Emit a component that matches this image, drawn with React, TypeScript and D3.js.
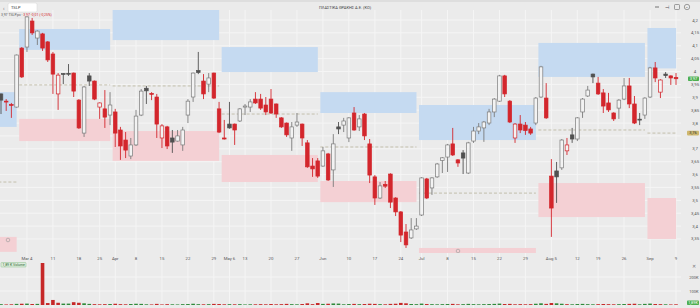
import React from "react";
import * as d3 from "d3";

const W = 700;
const H = 308;

// Daily OHLC (index 0 = 26 Feb 2024)
const opens = [3.913,3.885,3.872,3.862,4.091,4.095,4.196,4.130,4.146,4.115,
4.068,3.913,3.992,3.993,3.994,3.889,3.761,3.983,3.963,3.862,
3.855,3.831,3.843,3.773,3.734,3.672,3.715,3.831,3.935,3.915,
3.901,3.742,3.785,3.742,3.730,3.715,3.831,3.901,4.004,3.963,
3.951,3.994,3.855,3.742,3.796,3.796,3.808,3.862,3.862,3.893,
3.893,3.870,3.893,3.874,3.820,3.800,3.742,3.792,3.796,3.723,
3.633,3.653,3.633,3.680,3.618,3.785,3.792,3.742,3.839,3.785,
3.835,3.719,3.591,3.509,3.562,3.602,3.509,3.455,3.377,3.354,
3.389,3.443,3.583,3.548,3.591,3.655,3.668,3.719,3.657,3.684,
3.606,3.730,3.769,3.781,3.800,3.843,3.885,3.983,3.885,3.742,
3.796,3.792,3.777,3.800,3.901,3.897,3.594,3.614,3.626,3.692,
3.754,3.738,3.843,3.905,3.990,3.955,3.917,3.878,3.839,3.858,
3.893,3.944,3.874,3.815,3.831,3.901,4.014,3.920,3.990,3.983,
3.977];
const highs = [3.915,3.893,3.878,4.066,4.095,4.215,4.208,4.160,4.150,4.118,
4.076,3.994,3.994,4.029,3.996,3.893,3.944,3.994,3.965,3.880,
3.928,3.920,3.855,3.785,3.765,3.742,3.851,3.932,3.944,3.920,
3.913,3.796,3.789,3.773,3.773,3.785,3.893,3.996,4.076,3.990,
3.994,3.996,3.882,3.812,3.882,3.798,3.858,3.874,3.893,3.920,
3.913,3.901,3.932,3.876,3.823,3.802,3.804,3.839,3.798,3.734,
3.664,3.664,3.707,3.684,3.757,3.804,3.820,3.823,3.862,3.831,
3.839,3.738,3.598,3.571,3.575,3.605,3.512,3.458,3.408,3.431,
3.431,3.590,3.587,3.590,3.645,3.668,3.719,3.781,3.660,3.695,
3.727,3.785,3.800,3.808,3.855,3.897,3.987,3.987,3.889,3.800,
3.831,3.804,3.785,3.901,4.022,3.955,3.660,3.649,3.738,3.742,
3.781,3.823,3.897,3.944,3.992,3.979,3.932,3.917,3.842,3.893,
3.975,3.975,3.905,3.839,3.900,4.018,4.037,3.970,3.998,3.985,
3.994];
const lows = [3.835,3.847,3.820,3.860,3.975,4.076,4.142,4.103,4.080,4.037,
3.913,3.851,3.951,3.983,3.901,3.777,3.746,3.944,3.889,3.816,
3.781,3.792,3.707,3.657,3.664,3.660,3.711,3.827,3.874,3.889,
3.742,3.703,3.699,3.684,3.728,3.692,3.800,3.882,3.990,3.893,
3.920,3.893,3.761,3.736,3.778,3.715,3.804,3.831,3.843,3.874,
3.851,3.831,3.835,3.820,3.781,3.746,3.692,3.785,3.711,3.626,
3.591,3.587,3.630,3.575,3.552,3.757,3.765,3.726,3.770,3.769,
3.734,3.567,3.482,3.505,3.548,3.470,3.439,3.338,3.315,3.350,
3.385,3.439,3.505,3.521,3.587,3.606,3.610,3.672,3.630,3.602,
3.602,3.723,3.757,3.727,3.792,3.823,3.882,3.901,3.800,3.723,
3.761,3.754,3.754,3.792,3.897,3.816,3.358,3.490,3.618,3.676,
3.723,3.730,3.820,3.901,3.955,3.909,3.839,3.843,3.808,3.816,
3.889,3.858,3.796,3.792,3.816,3.897,3.959,3.897,3.975,3.948,
3.948];
const closes = [3.889,3.883,3.870,4.064,3.979,4.212,4.150,4.157,4.091,4.045,
3.990,3.986,3.991,3.992,3.924,3.781,3.940,3.963,3.893,3.878,
3.823,3.870,3.761,3.711,3.695,3.715,3.827,3.924,3.925,3.912,
3.796,3.789,3.711,3.726,3.750,3.773,3.885,3.994,3.996,3.913,
3.975,3.897,3.765,3.738,3.781,3.773,3.855,3.866,3.882,3.878,
3.858,3.843,3.839,3.835,3.785,3.754,3.785,3.804,3.742,3.630,
3.622,3.594,3.692,3.579,3.719,3.777,3.808,3.820,3.773,3.816,
3.750,3.598,3.509,3.556,3.555,3.493,3.455,3.365,3.327,3.385,
3.400,3.587,3.509,3.587,3.641,3.665,3.715,3.676,3.645,3.664,
3.723,3.769,3.785,3.804,3.843,3.893,3.983,3.913,3.804,3.796,
3.773,3.771,3.761,3.897,4.018,3.820,3.470,3.591,3.734,3.715,
3.738,3.820,3.893,3.928,3.979,3.913,3.866,3.851,3.816,3.889,
3.944,3.874,3.800,3.812,3.897,4.014,3.975,3.967,3.984,3.975,
3.972];
// volume in thousands
const volumes = [6,4,5,8,9,10,7,8,300,14,
36,16,10,10,20,16,12,8,6,5,
6,7,9,6,5,7,9,8,5,4,
8,4,6,5,4,6,7,9,6,5,
6,8,7,5,6,5,6,4,5,5,
6,5,7,5,6,8,6,5,7,12,
6,14,8,9,11,10,5,7,8,6,
7,9,8,6,5,8,9,15,12,7,
6,10,7,6,5,6,7,8,5,6,
8,6,5,6,7,8,10,7,8,5,
6,5,6,9,12,8,14,12,9,6,
5,7,8,6,5,6,7,6,5,6,
7,8,9,5,8,10,7,6,5,4,
5];

const tickIndex = [5,10,15,19,22,26,31,36,41,44,47,52,57,62,67,72,77,81,86,91,96,101,106,111,115,120,125,130];
const tickLabels = ["Mar 4","11","18","25","Apr","8","15","22","29","May 6","13","20","27","Jun","10","17","24","Jul","8","15","22","29","Aug 5","12","19","26","Sep","9"];

// monthly zones
const monthFirst = [0,4,22,43,62,81,104,125];
const monthLast = [3,21,42,61,80,103,124,130];
const resHigh = [3.920,4.165,4.240,4.095,3.920,3.870,4.111,4.169];
const resLow = [3.785,4.084,4.122,3.998,3.839,3.734,3.979,4.012];
const supHigh = [3.358,3.816,3.769,3.676,3.575,3.315,3.567,3.509];
const supLow = [3.300,3.730,3.653,3.571,3.493,3.280,3.435,3.350];
const pivots = [3.571,3.948,3.944,3.835,3.707,3.528,3.773,3.761];

const priceTicks = d3.range(67, 85).map((k) => k * 0.05);
const volTicks = [100, 200];

const BG = "#ebebeb";
const GRID = "#f5f5f5";
const RED = "#d3262c";
const GRAY = "#7b7b7b";
const DARK = "#505050";
const GREEN = "#2f8a3a";
const FONT = "Roboto, 'Liberation Sans', Arial, sans-serif";

const fmt = (v: number) => String(Math.round(v * 100) / 100).replace(".", ",");

export default function App() {
  const n = closes.length;
  const x = d3.scaleLinear().domain([0, n - 1]).range([1, 676]);
  const step = x(1) - x(0);
  const y = d3.scaleLinear().domain([4.2, 3.3]).range([20, 251.84]);
  const yv = d3.scaleLinear().domain([0, 200]).range([305, 277]);
  const bw = 3.6;
  const last = closes[n - 1];
  const badgeYs = [y(last), y(pivots[7])];
  const shownTicks = priceTicks.filter((p) => badgeYs.every((b) => Math.abs(y(p) - b) > 4));

  return (
    <div style={{ position: "fixed", left: 0, top: 0, width: W, height: H }}>
      <svg width={W} height={H} style={{ display: "block", fontFamily: FONT }}>
        <defs>
          <clipPath id="pclip">
            <rect x={0} y={10} width={681} height={243} />
          </clipPath>
        </defs>
        <rect x={0} y={0} width={W} height={H} fill={BG} />
        <rect x={0} y={0} width={W} height={2} fill="#dedede" />

        {/* vertical grid */}
        {tickIndex.map((t, k) => (
          <line key={"vg" + k} x1={x(t)} x2={x(t)} y1={10} y2={H} stroke={GRID} strokeWidth={1} />
        ))}
        {/* horizontal grid */}
        {priceTicks.map((p, k) => (
          <line key={"hg" + k} x1={0} x2={681} y1={y(p)} y2={y(p)} stroke={GRID} strokeWidth={1} />
        ))}

        <g clipPath="url(#pclip)">
          {monthFirst.map((f, k) => {
            const x0 = x(f) - step / 2;
            const x1 = x(monthLast[k]) + step / 2 - 2.5;
            return (
              <g key={"z" + k}>
                <rect x={x0} y={y(resHigh[k])} width={x1 - x0} height={y(resLow[k]) - y(resHigh[k])} fill="#c5daf1" />
                <rect x={x0} y={y(supHigh[k])} width={x1 - x0} height={y(supLow[k]) - y(supHigh[k])} fill="#f4d0d4" />
                <line x1={x0} x2={x1} y1={y(pivots[k])} y2={y(pivots[k])} stroke="#b9b49c" strokeWidth={0.8} strokeDasharray="3,2" />
              </g>
            );
          })}
          <circle cx={8} cy={240} r={1.8} fill="none" stroke="#999" strokeWidth={0.6} />
          <circle cx={458} cy={251} r={1.8} fill="none" stroke="#999" strokeWidth={0.6} />

          {closes.map((c, i) => {
            const o = opens[i];
            const hollow = c > o;
            const rising = i === 0 ? true : c >= closes[i - 1];
            const col = rising ? (hollow ? GRAY : DARK) : RED;
            const top = y(Math.max(o, c));
            const hgt = Math.max(0.9, Math.abs(y(o) - y(c)));
            const cx = x(i);
            return (
              <g key={"c" + i}>
                <line x1={cx} x2={cx} y1={y(highs[i])} y2={y(lows[i])} stroke={col} strokeWidth={0.9} />
                <rect
                  x={cx - bw / 2}
                  y={top}
                  width={bw}
                  height={hgt}
                  fill={hollow ? "#f3f3f3" : col}
                  stroke={col}
                  strokeWidth={0.7}
                />
              </g>
            );
          })}
        </g>

        {/* price axis labels */}
        {shownTicks.map((p, k) => (
          <text key={"pt" + k} x={695} y={y(p) + 1.5} fontSize={4.3} fill="#555" textAnchor="middle">
            {fmt(p)}
          </text>
        ))}
        <rect x={688} y={y(last) - 2.3} width={11} height={4.6} rx={0.8} fill="#4caf50" />
        <text x={693.5} y={y(last) + 1.4} fontSize={4} fill="#fff" textAnchor="middle">{fmt(last)}</text>
        <rect x={687} y={y(pivots[7]) - 2.3} width={12} height={4.6} rx={0.8} fill="#cdb76e" />
        <text x={693} y={y(pivots[7]) + 1.4} fontSize={4} fill="#333" textAnchor="middle">{fmt(pivots[7])}</text>

        {/* x axis labels */}
        {tickIndex.map((t, k) => (
          <text key={"xt" + k} x={x(t)} y={259.5} fontSize={4.3} fill="#555" textAnchor="middle">
            {tickLabels[k]}
          </text>
        ))}

        {/* volume */}
        {volTicks.map((v, k) => (
          <line key={"vgl" + k} x1={0} x2={681} y1={yv(v)} y2={yv(v)} stroke={GRID} strokeWidth={1} />
        ))}
        {volumes.map((v, i) => {
          const rising = i === 0 ? true : closes[i] >= closes[i - 1];
          return (
            <rect
              key={"v" + i}
              x={x(i) - bw / 2}
              y={yv(v)}
              width={bw}
              height={yv(0) - yv(v)}
              fill={rising ? GREEN : "#c62828"}
            />
          );
        })}
        {volTicks.map((v, k) => (
          <text key={"vt" + k} x={694} y={yv(v) + 1.5} fontSize={4} fill="#555" textAnchor="middle">
            {v + "K"}
          </text>
        ))}
        <text x={694} y={268} fontSize={4.5} fill="#777" textAnchor="middle">✕</text>
        <rect x={687} y={300.5} width={12} height={4.6} rx={0.8} fill="#4caf50" />
        <text x={693} y={304.2} fontSize={3.8} fill="#fff" textAnchor="middle">1,89K</text>
        <rect x={1} y={262.5} width={25} height={4.5} rx={0.6} fill="#dcebdc" stroke="#8cc08c" strokeWidth={0.5} />
        <text x={2.5} y={266} fontSize={3.5} fill="#2f6f35">1,89 K Volume</text>

        {/* header */}
        <rect x={8} y={3} width={29} height={9} rx={1.5} fill="#fff" stroke="#d4d4d4" strokeWidth={0.5} />
        <text x={3} y={9.5} fontSize={5} fill="#666">‹</text>
        <text x={11} y={9} fontSize={4} fill="#333">TSLP</text>
        <text x={345} y={8.5} fontSize={4} fill="#444" textAnchor="middle">ΠΛΑΣΤΙΚΑ ΘΡΑΚΗΣ Α.Ε. (ΚΟ)</text>
        <text x={1} y={16.3} fontSize={3.5}>
          <tspan fill="#555">3,97 TSLP.px · </tspan>
          <tspan fill={RED}>3,97 -0,01 (-0,25%)</tspan>
        </text>
        <line x1={655} x2={659} y1={7} y2={7} stroke="#555" strokeWidth={0.8} />
        <text x={667} y={8.8} fontSize={4.5} fill="#555" textAnchor="middle">⊣</text>
        <rect x={674.5} y={4.5} width={5} height={5} rx={0.8} fill="none" stroke="#666" strokeWidth={0.6} />
        <circle cx={687} cy={7} r={2.7} fill="none" stroke="#666" strokeWidth={0.6} />
        <text x={687} y={8.2} fontSize={3} fill="#666" textAnchor="middle">≡</text>
      </svg>
    </div>
  );
}
